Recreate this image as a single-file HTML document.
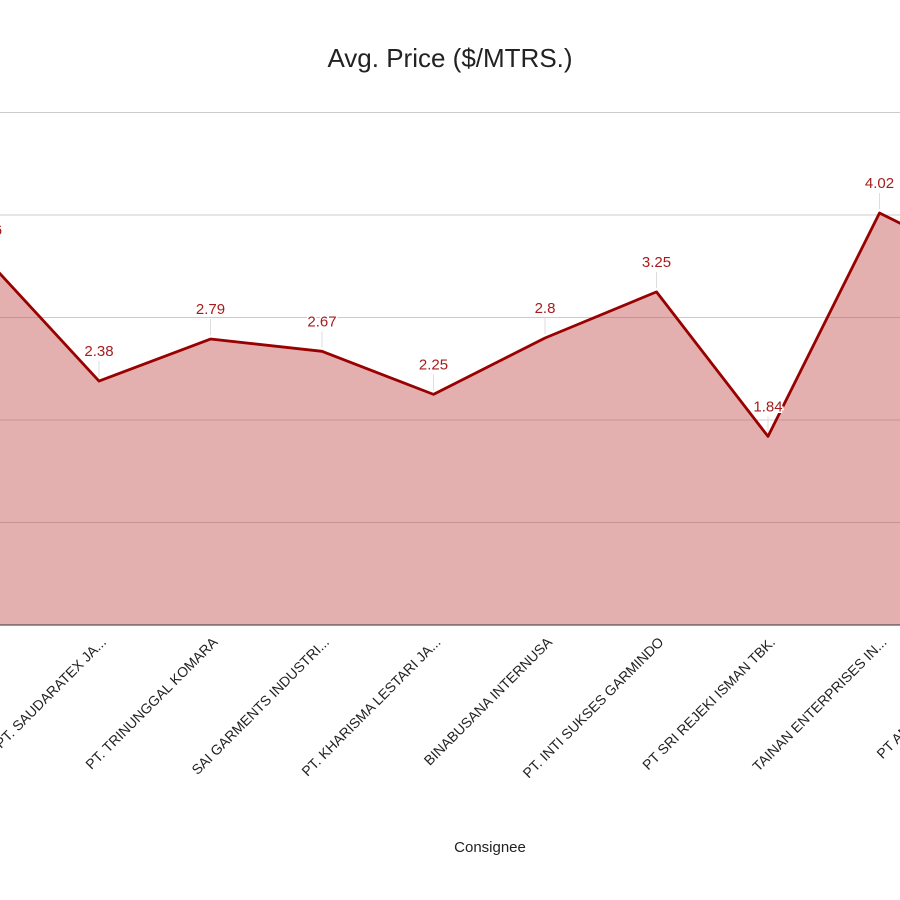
<!DOCTYPE html>
<html><head><meta charset="utf-8"><style>body{margin:0;background:#fff}svg{display:block}</style></head>
<body>
<svg id="chart" width="900" height="900" xmlns="http://www.w3.org/2000/svg" font-family="Liberation Sans, Arial, sans-serif">
<text x="450" y="67" text-anchor="middle" font-size="26" fill="#222">Avg. Price ($/MTRS.)</text>
<text x="490" y="852" text-anchor="middle" font-size="15" fill="#222">Consignee</text>
<g id="grid"></g><g id="area"></g><g id="labels"></g><g id="xlabels"></g>
</svg>
<script>
const categories=["PT. PAN BROTHERS TBK","PT. SAUDARATEX JA...","PT. TRINUNGGAL KOMARA","SAI GARMENTS INDUSTRI...","PT. KHARISMA LESTARI JA...","BINABUSANA INTERNUSA","PT. INTI SUKSES GARMINDO","PT SRI REJEKI ISMAN TBK.","TAINAN ENTERPRISES IN...","PT ANDALAN FURNINDO","PT. OTHER"];
const values=[3.56,2.38,2.79,2.67,2.25,2.8,3.25,1.84,4.02,3.48,3.2];
const valueLabels=["3.56","2.38","2.79","2.67","2.25","2.8","3.25","1.84","4.02","3.48","3.2"];
const yTicks=[0,1,2,3,4,5];
const NS="http://www.w3.org/2000/svg";
const x=i=>-12.5+i*111.5, y=v=>625-102.5*v;
function mk(t,a,p){const e=document.createElementNS(NS,t);for(const k in a)e.setAttribute(k,a[k]);p.appendChild(e);return e;}
const grid=document.getElementById('grid');
yTicks.forEach(t=>{if(t===0)return;const l=mk('line',{x1:0,x2:900,y1:y(t),y2:y(t),stroke:'#ccc','stroke-width':1},grid);

});
const area=document.getElementById('area');
let d=values.map((v,i)=>(i?'L':'M')+x(i)+','+y(v)).join(' ');
const fill=mk('path',{d:d+' L'+x(values.length-1)+','+y(0)+' L'+x(0)+','+y(0)+' Z',fill:'#c0504d','fill-opacity':0.45},area);


const base=mk('line',{x1:0,x2:900,y1:y(0),y2:y(0),stroke:'#333','stroke-width':1},area);


const line=mk('path',{d:d,fill:'none',stroke:'#990000','stroke-width':2.8,'stroke-linejoin':'round'},area);


const lab=document.getElementById('labels');
values.forEach((v,i)=>{const X=x(i),Y=y(v);
const s=mk('line',{x1:X,x2:X,y1:Y-4,y2:Y-20,stroke:'#ddd','stroke-width':1},lab);


const t=mk('text',{x:X,y:Y-25,'text-anchor':'middle','font-size':15,fill:'#a61c1c',stroke:'#fff','stroke-width':3,'paint-order':'stroke'},lab);
t.textContent=valueLabels[i];

});
const xl=document.getElementById('xlabels');
categories.forEach((c,i)=>{const X=x(i)+8,Y=643;
const t=mk('text',{x:X,y:Y,'text-anchor':'end','font-size':14,fill:'#222',transform:'rotate(-45 '+X+' '+Y+')'},xl);
t.textContent=c;

});
</script>
</body></html>
